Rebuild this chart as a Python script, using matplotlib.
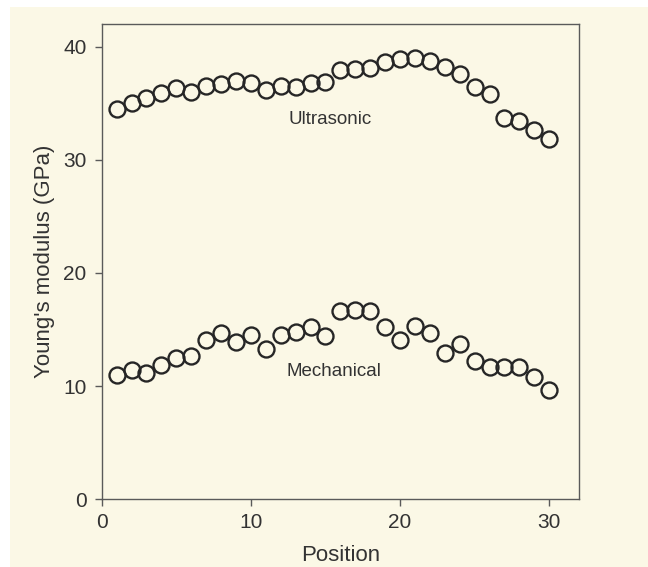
import matplotlib
matplotlib.use("Agg")
import matplotlib.pyplot as plt
from matplotlib.patches import Rectangle

plt.rcParams['font.family'] = ['Liberation Sans', 'DejaVu Sans']

PAPER = '#fbf8e6'
INK = '#262626'
AXIS_GREY = '#5a5a5a'
TEXT = '#333333'

positions = list(range(1, 31))
ultrasonic = [34.5, 35.0, 35.5, 35.9, 36.3, 36.0, 36.5, 36.7, 37.0, 36.8,
              36.2, 36.5, 36.4, 36.8, 36.9, 37.9, 38.0, 38.1, 38.6, 38.9,
              39.0, 38.7, 38.2, 37.6, 36.4, 35.8, 33.7, 33.4, 32.6, 31.8]
mechanical = [11.0, 11.4, 11.2, 11.9, 12.5, 12.7, 14.1, 14.7, 13.9, 14.5,
              13.3, 14.5, 14.8, 15.2, 14.4, 16.6, 16.7, 16.6, 15.2, 14.1,
              15.3, 14.7, 12.9, 13.7, 12.2, 11.7, 11.7, 11.7, 10.8, 9.7]
x_ticks = [0, 10, 20, 30]
y_ticks = [0, 10, 20, 30, 40]

fig = plt.figure(figsize=(6.48, 5.67), dpi=100, facecolor=PAPER)
# white scanner margin on the top and left edge
fig.add_artist(Rectangle((0, 0.988), 1, 0.012, transform=fig.transFigure,
                         facecolor='white', edgecolor='none'))
fig.add_artist(Rectangle((0, 0), 0.015, 1, transform=fig.transFigure,
                         facecolor='white', edgecolor='none'))

ax = fig.add_axes([0.157, 0.1194, 0.7365, 0.8383])
ax.set_facecolor(PAPER)

marker_style = dict(linestyle='none', marker='o', markersize=11.5,
                    markerfacecolor='none', markeredgecolor=INK, markeredgewidth=1.7)
ax.plot(positions, ultrasonic, **marker_style)
ax.plot(positions, mechanical, **marker_style)

ax.text(15.3, 33.6, 'Ultrasonic', ha='center', va='center', fontsize=13.5, color=TEXT)
ax.text(15.6, 11.3, 'Mechanical', ha='center', va='center', fontsize=13.5, color=TEXT)

ax.set_xlim(0, 32)
ax.set_ylim(0, 42)
ax.set_xticks(x_ticks)
ax.set_yticks(y_ticks)
ax.tick_params(direction='out', length=5, width=1, colors=AXIS_GREY,
               labelcolor=TEXT, labelsize=15)
ax.tick_params(axis='y', pad=6)
ax.tick_params(axis='x', pad=5)
for spine in ax.spines.values():
    spine.set_color(AXIS_GREY)
    spine.set_linewidth(1.0)

ax.set_xlabel('Position', fontsize=16, color=TEXT, labelpad=9)
ax.set_ylabel("Young's modulus (GPa)", fontsize=16, color=TEXT, labelpad=6)

fig.savefig('out.png', dpi=100, facecolor=PAPER)
